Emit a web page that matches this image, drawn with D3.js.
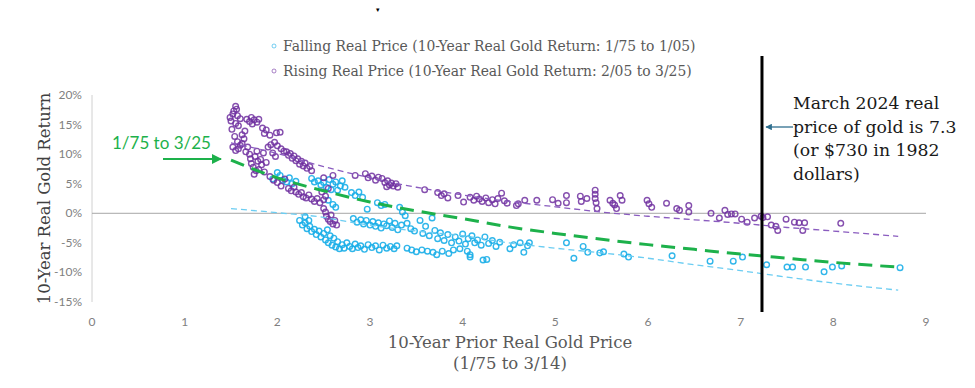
<!DOCTYPE html>
<html>
<head>
<meta charset="utf-8">
<script src="https://cdn.jsdelivr.net/npm/d3@7"></script>
<style>
  body { margin: 0; background: #fff; }
  svg { display: block; }
</style>
</head>
<body>
<div id="chart"></div>
<script>
// falling real price points [prior price, 10y return %]
const fallingPts = [
  [1.95,5.8],[2.00,6.9],[2.03,6.4],[2.06,5.6],[2.10,5.3],[2.13,6.0],[2.16,5.0],[2.20,5.4],[2.37,5.9],[2.40,5.3],
  [2.44,5.5],[2.47,4.8],[2.50,5.2],[2.53,4.4],[2.56,5.7],[2.58,4.0],[2.60,4.9],[2.63,5.3],[2.65,3.9],[2.68,4.6],
  [2.70,5.5],[2.73,4.4],[2.80,3.5],[2.84,3.0],[2.88,3.6],[2.92,2.7],[2.55,2.2],[2.60,1.5],[2.63,1.0],[2.97,0.7],
  [3.08,1.8],[3.12,1.3],[3.16,1.5],[3.32,1.0],[3.35,0.2],[3.38,-0.4],[2.30,-0.6],[2.34,-1.2],
  [2.24,-1.2],[2.27,-2.0],[2.30,-1.6],[2.32,-2.6],[2.35,-2.2],[2.37,-3.1],[2.40,-2.7],[2.42,-3.6],[2.45,-3.0],[2.47,-4.0],
  [2.50,-3.4],[2.52,-4.5],[2.54,-2.8],[2.55,-5.0],[2.57,-3.8],[2.59,-5.4],[2.61,-4.2],[2.63,-5.7],[2.65,-4.8],[2.67,-6.0],
  [2.70,-5.3],[2.72,-5.9],[2.75,-5.0],[2.78,-5.6],[2.81,-6.0],[2.84,-5.2],[2.87,-5.8],[2.90,-5.5],[2.94,-6.1],[2.98,-5.3],
  [3.02,-5.8],[3.06,-5.5],[3.10,-6.2],[3.14,-5.4],[3.18,-5.9],[3.22,-5.6],[3.26,-6.0],[3.29,-5.5],
  [2.82,-0.9],[2.86,-1.5],[2.90,-1.1],[2.93,-1.8],[2.96,-1.2],[3.00,-2.0],[3.03,-1.4],[3.06,-2.2],[3.09,-1.6],[3.12,-2.5],
  [3.15,-1.8],[3.18,-2.1],[3.21,-1.3],[3.24,-2.4],[3.27,-1.7],[3.30,-2.8],[3.34,-2.0],[3.40,-1.7],[3.44,-2.6],[3.48,-3.0],
  [3.54,-1.2],[3.57,-3.4],[3.60,-2.2],[3.64,-3.8],[3.67,-0.8],[3.70,-2.9],[3.73,-4.3],[3.76,-3.3],[3.80,-4.6],[3.84,-3.6],
  [3.88,-5.0],[3.92,-4.0],[3.96,-4.7],[4.00,-3.5],[4.03,-5.2],[4.06,-4.3],[4.10,-3.8],[4.13,-5.0],[4.16,-4.5],[4.20,-5.4],
  [4.24,-4.0],[4.28,-5.1],[4.32,-4.6],[4.36,-5.6],[4.40,-4.9],
  [3.40,-5.9],[3.45,-6.2],[3.50,-6.5],[3.56,-6.2],[3.62,-6.4],[3.68,-6.6],[3.72,-7.0],[3.78,-6.4],[3.85,-6.8],[3.90,-6.2],
  [3.97,-6.0],[4.05,-6.4],[4.08,-7.0],[4.08,-7.4],[4.22,-7.9],[4.26,-7.8],
  [4.51,-6.0],[4.55,-5.3],[4.62,-5.0],[4.66,-6.6],[4.70,-5.5],[4.72,-5.0],[5.12,-5.0],[5.20,-7.6],[5.30,-5.6],[5.35,-6.6],
  [5.48,-6.7],[5.52,-6.5],[5.74,-6.9],[5.79,-7.4],[6.26,-7.2],[6.67,-8.1],[6.92,-8.1],[7.02,-7.4],[7.28,-8.7],[7.50,-9.1],
  [7.56,-9.1],[7.70,-9.1],[7.90,-9.9],[7.99,-9.1],[8.09,-8.9],[8.72,-9.2]
];

// rising real price points
const risingPts = [
  [1.49,16.2],[1.50,15.6],[1.52,16.8],[1.53,17.3],[1.55,18.1],[1.56,17.6],[1.57,16.5],[1.55,15.2],[1.58,14.8],[1.60,16.0],
  [1.51,14.2],[1.54,13.0],[1.57,12.1],[1.60,11.5],[1.52,11.2],[1.55,10.6],[1.58,10.9],[1.62,11.8],[1.62,13.3],[1.64,12.6],
  [1.65,13.9],[1.67,15.9],[1.70,15.5],[1.72,16.2],[1.75,15.8],[1.78,15.4],[1.80,15.9],[1.73,15.1],[1.66,10.4],[1.68,11.2],
  [1.70,10.0],[1.71,9.2],[1.72,8.4],[1.74,7.8],[1.76,9.6],[1.78,10.5],[1.79,8.8],[1.80,7.4],[1.82,9.1],[1.83,8.2],
  [1.85,10.2],[1.86,7.0],[1.88,8.6],[1.75,6.6],[1.77,7.2],[1.84,14.4],[1.86,13.5],[1.88,14.1],[1.92,13.2],[1.99,13.6],
  [2.03,13.7],[1.90,11.2],[1.93,11.6],[1.97,12.0],[2.00,11.4],[2.04,10.9],[2.07,10.5],[1.95,10.2],[1.98,9.6],[1.92,6.2],
  [1.96,5.6],[2.00,5.2],[2.04,4.6],[2.08,5.8],[2.10,10.4],[2.12,9.8],[2.14,10.1],[2.16,9.3],[2.18,9.7],[2.20,8.9],
  [2.22,9.2],[2.24,8.3],[2.26,8.8],[2.28,8.0],[2.30,8.5],[2.32,7.6],[2.35,7.9],[2.37,7.2],[2.12,4.2],[2.15,3.8],
  [2.18,4.4],[2.20,3.6],[2.23,3.2],[2.26,3.5],[2.28,2.8],[2.31,2.6],[2.34,3.1],[2.37,2.4],[2.40,2.0],[2.43,2.5],
  [2.46,1.8],[2.50,2.3],[2.52,2.9],[2.48,3.6],[2.55,4.2],[2.50,0.8],[2.52,0.2],[2.53,-0.5],[2.55,-1.0],[2.57,-1.4],
  [2.60,-1.8],[2.58,-0.3],[2.62,-1.2],[2.64,-2.0],[2.50,6.0],[2.60,6.4],
  [2.84,6.4],[2.95,6.7],[2.98,6.0],[3.02,6.3],[3.06,5.6],[3.09,6.1],[3.13,5.9],[3.16,5.2],[3.19,5.5],[3.21,4.8],
  [3.23,5.1],[3.25,4.6],[3.28,5.0],[3.30,4.4],[3.18,4.5],[3.59,4.0],[3.73,3.5],[3.77,3.0],[3.80,3.3],[3.84,2.6],
  [3.95,3.0],[4.01,1.9],[4.08,2.7],[4.12,2.2],[4.15,2.9],[4.18,2.4],[4.21,2.0],[4.25,2.6],[4.28,1.8],[4.32,2.3],
  [4.35,1.6],[4.38,2.5],[4.42,3.4],[4.45,2.1],[4.48,1.7],[4.58,1.3],[4.60,1.6],[4.67,2.2],[4.80,2.2],
  [4.97,2.3],[5.03,1.7],[5.12,3.0],[5.12,1.8],[5.27,2.9],[5.28,2.0],[5.34,2.5],[5.43,3.9],[5.43,3.2],[5.43,2.5],
  [5.44,1.8],[5.45,0.8],[5.59,2.2],[5.62,1.7],[5.64,1.4],[5.66,0.8],[5.70,3.0],[5.72,2.2],[5.99,2.2],[6.01,1.6],
  [6.04,1.0],[6.20,1.7],[6.31,0.8],[6.34,0.5],[6.44,1.3],[6.44,0.2],[6.68,0.0],[6.77,-0.8],[6.83,0.5],[6.86,-0.2],
  [6.90,-0.1],[6.94,-0.1],[7.01,-1.0],[7.07,-1.5],[7.15,-0.8],[7.22,-0.5],[7.24,-0.7],[7.29,-0.6],[7.33,-2.0],[7.38,-2.2],
  [7.40,-2.9],[7.49,-1.0],[7.58,-1.5],[7.63,-1.6],[7.67,-2.9],[7.69,-1.6],[8.08,-1.7]
];

// trend lines
const trendAll = [[1.5,9.0],[2,6.0],[2.5,3.8],[3,1.9],[3.5,0.4],[4,-0.9],[4.5,-2.3],[5,-3.4],[5.5,-4.4],[6,-5.3],[6.5,-6.1],[7,-6.9],[7.5,-7.6],[8,-8.3],[8.7,-9.1]];
const trendRising = [[1.5,11.9],[2,10.1],[2.5,7.9],[3,6.0],[3.5,4.4],[4,3.1],[4.5,2.0],[5,1.1],[5.5,0.2],[6,-0.5],[6.5,-1.1],[7,-1.7],[7.5,-2.4],[8,-3.0],[8.7,-3.9]];
const trendFalling = [[1.5,0.8],[2,0.1],[2.5,-0.7],[2.75,-1.4],[3,-2.0],[3.5,-3.0],[4,-3.8],[4.5,-5.0],[5,-5.9],[5.5,-6.7],[6,-7.6],[6.5,-8.7],[7,-9.7],[7.5,-10.8],[8,-11.8],[8.7,-13.0]];

const xTicks = [0,1,2,3,4,5,6,7,8,9];
const yTicks = [-15,-10,-5,0,5,10,15,20];
const legendLabels = [
  "Falling Real Price (10-Year Real Gold Return: 1/75 to 1/05)",
  "Rising Real Price (10-Year Real Gold Return: 2/05 to 3/25)"
];
const marchPrice = 7.23;
const noteLines = ["March 2024 real", "price of gold is 7.3", "(or $730 in 1982", "dollars)"];

const width = 975, height = 388;
const cyan = "#1aaee8", purple = "#7030a0", green = "#1db14b";
const serif = "'DejaVu Serif', serif";

const svg = d3.select("#chart").append("svg")
  .attr("width", width).attr("height", height);

const defs = svg.append("defs");
function arrowHead(id, color) {
  defs.append("marker").attr("id", id)
    .attr("viewBox", "0 0 10 10").attr("refX", 9).attr("refY", 5)
    .attr("markerWidth", 5).attr("markerHeight", 5).attr("orient", "auto-start-reverse")
    .append("path").attr("d", "M0,0L10,5L0,10z").attr("fill", color);
}
arrowHead("arrG", green);
arrowHead("arrB", "#2f6f8f");

const x = d3.scaleLinear().domain([0, 9]).range([92, 926]);
const y = d3.scaleLinear().domain([-15, 20]).range([302, 95]);

// axes
svg.append("line").attr("x1", x(0)).attr("x2", x(0)).attr("y1", y(20)).attr("y2", y(-15))
  .attr("stroke", "#d0d0d0");
svg.append("line").attr("x1", x(0)).attr("x2", x(9)).attr("y1", y(0)).attr("y2", y(0))
  .attr("stroke", "#a6a6a6").attr("stroke-width", 1);

svg.append("g").selectAll("text").data(yTicks).join("text")
  .attr("x", 82).attr("y", d => y(d) + 4)
  .attr("text-anchor", "end")
  .style("font-family", "Lato, sans-serif").style("font-size", "12px").attr("fill", "#7f7f7f")
  .text(d => d + "%");

svg.append("g").selectAll("text").data(xTicks).join("text")
  .attr("x", d => x(d)).attr("y", 326)
  .attr("text-anchor", "middle")
  .style("font-family", "Lato, sans-serif").style("font-size", "12px").attr("fill", "#7f7f7f")
  .text(d => d);

// axis titles
svg.append("text")
  .attr("transform", `translate(50,${(y(20) + y(-15)) / 2}) rotate(-90)`)
  .attr("text-anchor", "middle")
  .style("font-family", serif).style("font-size", "16.5px").attr("fill", "#404040")
  .text("10-Year Real Gold Return");

svg.append("text").attr("x", 510).attr("y", 348).attr("text-anchor", "middle")
  .style("font-family", serif).style("font-size", "16.5px").attr("fill", "#595959")
  .text("10-Year Prior Real Gold Price");
svg.append("text").attr("x", 510).attr("y", 369).attr("text-anchor", "middle")
  .style("font-family", serif).style("font-size", "16.5px").attr("fill", "#595959")
  .text("(1/75 to 3/14)");

// points
const pts = svg.append("g");
pts.selectAll("circle.f").data(fallingPts).join("circle").attr("class", "f")
  .attr("cx", d => x(d[0])).attr("cy", d => y(d[1])).attr("r", 2.8)
  .attr("fill", "none").attr("stroke", cyan).attr("stroke-width", 1.4).attr("opacity", 0.9);
pts.selectAll("circle.r").data(risingPts).join("circle").attr("class", "r")
  .attr("cx", d => x(d[0])).attr("cy", d => y(d[1])).attr("r", 2.8)
  .attr("fill", "none").attr("stroke", purple).attr("stroke-width", 1.4).attr("opacity", 0.85);

// trend lines
const line = d3.line().x(d => x(d[0])).y(d => y(d[1])).curve(d3.curveMonotoneX);
svg.append("path").attr("d", line(trendFalling)).attr("fill", "none")
  .attr("stroke", "#6ccdf2").attr("stroke-width", 1.3).attr("stroke-dasharray", "6,4");
svg.append("path").attr("d", line(trendRising)).attr("fill", "none")
  .attr("stroke", "#8a5cbf").attr("stroke-width", 1.3).attr("stroke-dasharray", "6,4");
svg.append("path").attr("d", line(trendAll)).attr("fill", "none")
  .attr("stroke", green).attr("stroke-width", 3).attr("stroke-dasharray", "14,8");

// green label + arrow
svg.append("text").attr("x", 112).attr("y", 149)
  .style("font-family", "Lato, sans-serif").style("font-size", "17px").attr("fill", green)
  .text("1/75 to 3/25");
svg.append("line").attr("x1", 163).attr("x2", 221).attr("y1", 159).attr("y2", 159)
  .attr("stroke", green).attr("stroke-width", 2).attr("marker-end", "url(#arrG)");

// March 2024 line
svg.append("line").attr("x1", x(marchPrice)).attr("x2", x(marchPrice)).attr("y1", 56).attr("y2", 312)
  .attr("stroke", "#000").attr("stroke-width", 3);
svg.append("line").attr("x1", 793).attr("x2", 766).attr("y1", 127).attr("y2", 127)
  .attr("stroke", "#2f6f8f").attr("stroke-width", 1.3).attr("marker-end", "url(#arrB)");
svg.append("g").selectAll("text").data(noteLines).join("text")
  .attr("x", 793).attr("y", (d, i) => 109 + i * 23.5)
  .style("font-family", serif).style("font-size", "17.3px").attr("fill", "#1a1a1a")
  .text(d => d);

// legend
const legendColors = [cyan, purple];
const lg = svg.append("g");
legendLabels.forEach((t, i) => {
  lg.append("circle").attr("cx", 274).attr("cy", 46 + i * 25).attr("r", 2)
    .attr("fill", "none").attr("stroke", legendColors[i]).attr("stroke-width", 1).attr("opacity", 0.6);
  lg.append("text").attr("x", 283).attr("y", 51 + i * 25)
    .style("font-family", serif).style("font-size", "13.9px").attr("fill", "#595959")
    .text(t);
});

// small stray mark at top
svg.append("text").attr("x", 378).attr("y", 12).attr("text-anchor", "middle")
  .style("font-size", "7px").attr("fill", "#000").text("▾");
</script>
</body>
</html>
